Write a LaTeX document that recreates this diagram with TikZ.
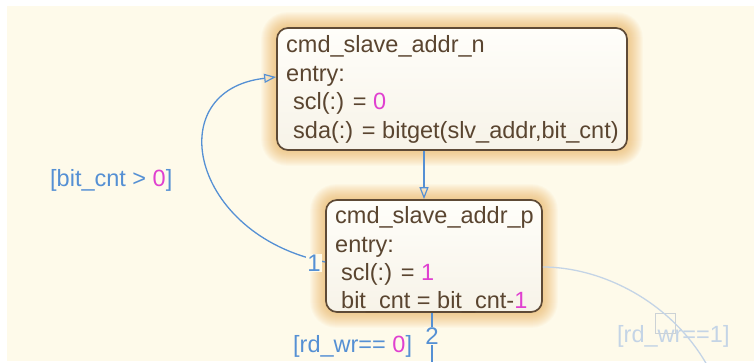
\documentclass[tikz,border=0pt]{standalone}
\usepackage{fontspec}
\setmainfont{Liberation Sans}
\usetikzlibrary{arrows.meta,calc,backgrounds}
\definecolor{bg}{HTML}{FEFAEA}
\definecolor{txt}{HTML}{5A4530}
\definecolor{connc}{HTML}{5590D4}
\definecolor{mag}{HTML}{E040D0}
\definecolor{faintc}{HTML}{C4D4E6}
\definecolor{sqc}{HTML}{CCD2D6}
\definecolor{glow}{HTML}{F0A845}
\definecolor{bord}{HTML}{5E4A36}
\definecolor{boxtop}{HTML}{FFFEFA}
\definecolor{boxbot}{HTML}{F7F3E8}
\begin{document}
\begin{tikzpicture}[x=1pt,y=-1pt,
  statebox/.style={draw=bord, line width=1.7pt, rounded corners=11pt, top color=boxtop, bottom color=boxbot, inner sep=0pt},
  codetext/.style={anchor=base west, inner sep=0pt, text=txt, font=\fontsize{23.5}{27}\selectfont},
  lbl/.style={inner sep=0pt, text=connc, font=\fontsize{23.5}{27}\selectfont},
  numlbl/.style={inner sep=1pt, fill=bg, text=connc, font=\fontsize{24}{28}\selectfont},
  connline/.style={draw=connc, line width=1.3pt},
  faintline/.style={draw=faintc, line width=1.3pt},
  opentip/.style={-{Triangle[open, length=12pt, width=9pt, line width=1.2pt]}}
]
\useasboundingbox (0,0) rectangle (754,362);

% state boxes
\node[statebox, minimum width=350pt, minimum height=122pt] (n1) at (452,89) {};
\node[statebox, minimum width=216pt, minimum height=112pt] (n2) at (434,256) {};

% box texts
\node[codetext] (a1) at (286,52) {cmd\_slave\_addr\_n};
\node[codetext] (a2) at (286,81) {entry:};
\node[codetext] (a3) at (293,109) {scl(:) = \textcolor{mag}{0}};
\node[codetext] (a4) at (293,138) {sda(:) = bitget(slv\_addr,bit\_cnt)};

\node[codetext] (b1) at (335,223) {cmd\_slave\_addr\_p};
\node[codetext] (b2) at (335,252) {entry:};
\node[codetext] (b3) at (341,280) {scl(:) = \textcolor{mag}{1}};
\node[codetext] (b4) at (341,308) {bit\_cnt = bit\_cnt-\textcolor{mag}{1}};

% connectors
\coordinate (ax) at (424,0);
\draw[connline, opentip] (n1.south -| ax) -- (n2.north -| ax);

\draw[connline, opentip] ($(n2.west)+(0,6)$) .. controls (190,235) and (160,90) .. ($(n1.west)+(0,-12)$);
\node[numlbl] (l1) at (314,263) {1};
\node[lbl, anchor=base west] (g1) at (50,186) {[bit\_cnt > \textcolor{mag}{0}]};

\coordinate (bx) at (432,0);
\coordinate (bend) at (432,362);
\draw[connline] (n2.south -| bx) -- (bend);
\node[numlbl] (l2) at (432,336) {2};
\node[lbl, anchor=base west] (g2) at (293,352) {[rd\_wr== \textcolor{mag}{0}]};

% faint transition on the right
\node[lbl, text=faintc, anchor=base west] (g3) at (617,342) {[rd\_wr==1]};
\draw[sqc, line width=0.8pt] (655,313) rectangle (675,333);
\coordinate (e1) at (707,365);
\draw[faintline] ($(n2.east)+(0,11)$) .. controls (600,267) and (670,300) .. (e1);

\begin{pgfonlayer}{background}
  \fill[bg] (7,6) rectangle (754,361);
  \foreach \n in {n1,n2}{
    \foreach \k [evaluate=\k as \r using 11+\k] in {1,...,15}{
      \fill[glow, opacity=0.045, rounded corners=\r pt] ($(\n.north west)+(-\k,-\k)$) rectangle ($(\n.south east)+(\k,\k)$);
    }
  }
\end{pgfonlayer}
\end{tikzpicture}
\end{document}
